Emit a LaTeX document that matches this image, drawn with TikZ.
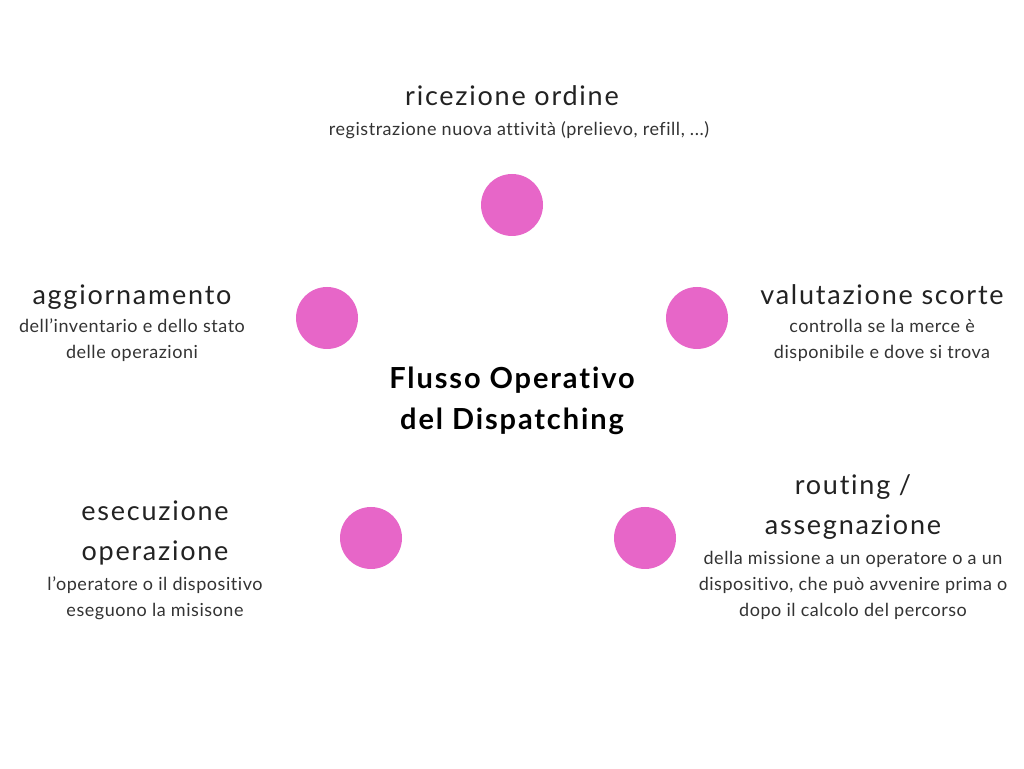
\documentclass[tikz,border=0pt]{standalone}
\usepackage{fontspec}
\setmainfont{Lato}[Ligatures=NoCommon]
\usepackage{xcolor}
\definecolor{dotpink}{HTML}{E766C8}
\definecolor{headgray}{HTML}{222222}
\definecolor{subgray}{HTML}{333333}
\begin{document}
\begin{tikzpicture}[x=1pt, y=1pt, every node/.style={inner sep=0, outer sep=0, align=center},
	dot/.style={circle, fill=dotpink, draw=none, minimum size=62pt},
	head/.style={anchor=north, text=headgray, font=\fontsize{27}{40}\selectfont\addfontfeature{LetterSpace=6.5}},
	sub/.style={anchor=north, text=subgray, font=\fontsize{18}{26}\selectfont\addfontfeature{LetterSpace=3}}]
		
		\useasboundingbox[fill=white] (0,0) rectangle (1024,768);
		
		%Circles
		\node[dot] (c1) at (512,563) {};
		\node[dot] (c2) at (327,450) {};
		\node[dot] (c3) at (697,450) {};
		\node[dot] (c4) at (371,230) {};
		\node[dot] (c5) at (645,230) {};
		
		%Title
		\node[anchor=north, text=black, font=\fontsize{29}{41}\selectfont\bfseries\addfontfeature{LetterSpace=6.5}] (title) at (512,401) {Flusso Operativo\\del Dispatching};
		
		%Nodes
		\node[head] (h1) at (512,682) {ricezione ordine};
		\node[sub]  (t1) at (519,646) {registrazione nuova attività (prelievo, refill, ...)};
		\node[head] (h2) at (132,483) {aggiornamento};
		\node[sub]  (t2) at (132,449) {dell’inventario e dello stato\\delle operazioni};
		\node[head] (h3) at (882,483) {valutazione scorte};
		\node[sub]  (t3) at (882,449) {controlla se la merce è\\disponibile e dove si trova};
		\node[head] (h4) at (155,267) {esecuzione\\operazione};
		\node[sub]  (t4) at (155,191) {l’operatore o il dispositivo\\eseguono la misisone};
		\node[head] (h5) at (853,293) {routing /\\assegnazione};
		\node[sub]  (t5) at (853,217) {della missione a un operatore o a un\\dispositivo, che può avvenire prima o\\dopo il calcolo del percorso};
	\end{tikzpicture}
\end{document}
